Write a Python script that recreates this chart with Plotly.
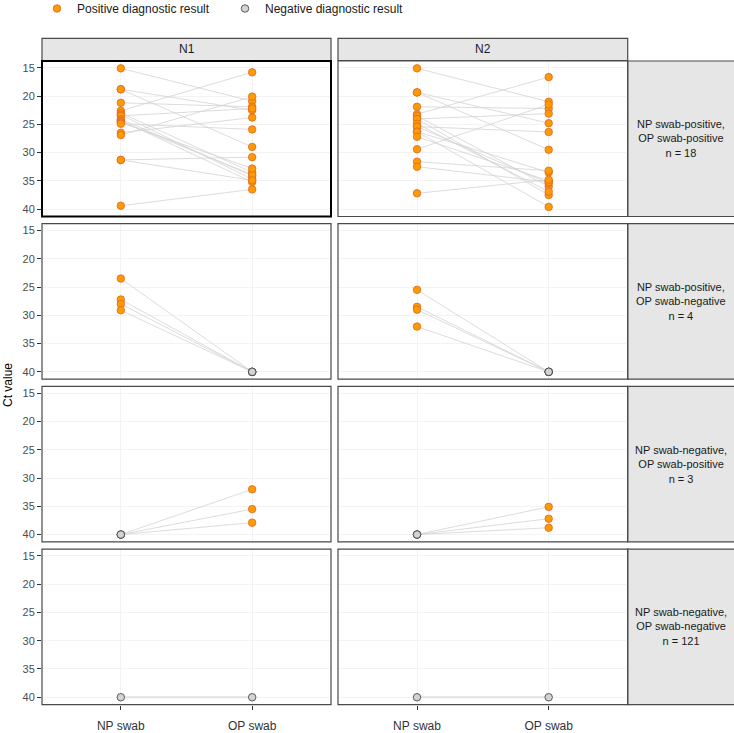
import plotly.graph_objects as go

W, H = 734, 733
FONT = "Liberation Sans, Arial, sans-serif"

cats = ["NP swab", "OP swab"]
genes = ["N1", "N2"]
row_labels = [
    "NP swab-positive,<br>OP swab-positive<br>n = 18",
    "NP swab-positive,<br>OP swab-negative<br>n = 4",
    "NP swab-negative,<br>OP swab-positive<br>n = 3",
    "NP swab-negative,<br>OP swab-negative<br>n = 121",
]
y_ticks = [15, 20, 25, 30, 35, 40]
NEG = 40  # Ct value plotted for negative results

# paired Ct values (NP swab, OP swab), one list per panel
pp_n1_np = [15.1, 18.8, 18.8, 21.2, 22.6, 23.0, 23.3, 23.5, 24.1, 24.3, 24.5, 24.7, 24.9, 26.5, 26.9, 31.3, 31.3, 39.4]
pp_n1_op = [20.9, 22.5, 29.0, 21.9, 15.8, 33.5, 34.7, 22.2, 34.1, 35.2, 33.9, 32.8, 25.9, 23.8, 20.1, 30.8, 34.9, 36.5]
pp_n2_np = [15.1, 19.35, 19.35, 21.9, 23.2, 23.5, 24.05, 24.05, 24.9, 25.4, 25.4, 26.3, 26.3, 27.2, 29.4, 31.6, 32.5, 37.2]
pp_n2_op = [21.0, 24.8, 29.5, 22.2, 16.65, 36.0, 23.1, 37.5, 36.9, 26.35, 35.4, 39.6, 33.5, 35.0, 21.5, 33.2, 35.2, 34.8]
pn_n1_np = [23.5, 27.2, 28.0, 29.1]
pn_n1_op = [NEG, NEG, NEG, NEG]
pn_n2_np = [25.5, 28.5, 29.0, 32.0]
pn_n2_op = [NEG, NEG, NEG, NEG]
np_n1_np = [NEG, NEG, NEG]
np_n1_op = [32.0, 35.5, 37.9]
np_n2_np = [NEG, NEG, NEG]
np_n2_op = [35.1, 37.2, 38.8]
nn_n1_np = [NEG]
nn_n1_op = [NEG]
nn_n2_np = [NEG]
nn_n2_op = [NEG]

panels = [
    [(pp_n1_np, pp_n1_op), (pp_n2_np, pp_n2_op)],
    [(pn_n1_np, pn_n1_op), (pn_n2_np, pn_n2_op)],
    [(np_n1_np, np_n1_op), (np_n2_np, np_n2_op)],
    [(nn_n1_np, nn_n1_op), (nn_n2_np, nn_n2_op)],
]

# layout geometry in pixels
col_x = [(42, 331), (338, 627.7)]
row_top0, row_pitch, row_h = 61, 162.7, 155.5
strip_top = (38.3, 60.5)
px = lambda v: v / W
py = lambda v: 1 - v / H

POS_FILL, POS_LINE = "#FF9A00", "#E0662A"
NEG_FILL, NEG_LINE = "#D3D3D3", "#3A3A3A"

fig = go.Figure()
layout = {}
shapes = []
annotations = []
shown = {"pos": False, "neg": False}

for r in range(4):
    top = row_top0 + r * row_pitch
    bot = top + row_h
    for c in range(2):
        k = r * 2 + c + 1
        sx = "" if k == 1 else str(k)
        xa, ya = "x" + sx, "y" + sx
        npv, opv = panels[r][c]
        # connecting lines
        lx, ly = [], []
        for a, b in zip(npv, opv):
            lx += [cats[0], cats[1], None]
            ly += [a, b, None]
        lw = 2 if r == 3 else 0.8
        lc = "#E2E2E2" if r == 3 else "#D3D3D3"
        fig.add_trace(go.Scatter(x=lx, y=ly, mode="lines", xaxis=xa, yaxis=ya,
                                 line=dict(color=lc, width=lw), showlegend=False,
                                 hoverinfo="skip"))
        # points
        allx = [cats[0]] * len(npv) + [cats[1]] * len(opv)
        ally = list(npv) + list(opv)
        posx = [x for x, y in zip(allx, ally) if y < NEG]
        posy = [y for y in ally if y < NEG]
        negx = [x for x, y in zip(allx, ally) if y >= NEG]
        negy = [y for y in ally if y >= NEG]
        if posy:
            fig.add_trace(go.Scatter(x=posx, y=posy, mode="markers", xaxis=xa, yaxis=ya,
                                     name="Positive diagnostic result", legendgroup="pos",
                                     showlegend=not shown["pos"], legendrank=1,
                                     marker=dict(size=7.5, color=POS_FILL,
                                                 line=dict(color=POS_LINE, width=0.8))))
            shown["pos"] = True
        if negy:
            fig.add_trace(go.Scatter(x=negx, y=negy, mode="markers", xaxis=xa, yaxis=ya,
                                     name="Negative diagnostic result", legendgroup="neg",
                                     showlegend=not shown["neg"], legendrank=2,
                                     marker=dict(size=7.5, color=NEG_FILL,
                                                 line=dict(color=NEG_LINE, width=0.8))))
            shown["neg"] = True

        layout["xaxis" + sx] = dict(
            domain=[px(col_x[c][0]), px(col_x[c][1])], anchor=ya,
            type="category", categoryorder="array", categoryarray=cats,
            range=[-0.6, 1.6], showgrid=True, gridcolor="#F3F3F3", gridwidth=0.7,
            zeroline=False, showline=False,
            ticks="outside" if r == 3 else "", ticklen=4, tickwidth=1, tickcolor="#333333",
            showticklabels=(r == 3), ticklabelstandoff=6,
            tickfont=dict(family=FONT, size=12, color="#333333"),
        )
        layout["yaxis" + sx] = dict(
            domain=[py(bot), py(top)], anchor=xa,
            range=[41.3, 13.8], tickvals=y_ticks, showgrid=True, gridcolor="#F3F3F3",
            gridwidth=0.7, zeroline=False, showline=False,
            ticks="outside" if c == 0 else "", ticklen=4, tickwidth=1, tickcolor="#333333",
            showticklabels=(c == 0),
            tickfont=dict(family=FONT, size=11, color="#4D4D4D"),
        )
        # panel border
        thick = (r == 0 and c == 0)
        shapes.append(dict(type="rect", xref=xa + " domain", yref=ya + " domain",
                           x0=0, x1=1, y0=0, y1=1,
                           line=dict(color="#000000" if thick else "#4A4A4A",
                                     width=2 if thick else 1.2),
                           fillcolor="rgba(0,0,0,0)", layer="above"))
    # right strip
    shapes.append(dict(type="rect", xref="paper", yref="paper",
                       x0=px(627.7), x1=px(736), y0=py(bot), y1=py(top),
                       line=dict(color="#4A4A4A", width=1.2), fillcolor="#E6E6E6",
                       layer="below"))
    annotations.append(dict(xref="paper", yref="paper", x=px(680.5), y=py((top + bot) / 2),
                            xanchor="center", yanchor="middle",
                            text=row_labels[r], showarrow=False, align="center",
                            font=dict(family=FONT, size=11, color="#1A1A1A")))

# top strips
for c in range(2):
    shapes.append(dict(type="rect", xref="paper", yref="paper",
                       x0=px(col_x[c][0]), x1=px(col_x[c][1]),
                       y0=py(strip_top[1]), y1=py(strip_top[0]),
                       line=dict(color="#4A4A4A", width=1.2), fillcolor="#E6E6E6",
                       layer="below"))
    annotations.append(dict(xref="paper", yref="paper",
                            x=px((col_x[c][0] + col_x[c][1]) / 2),
                            y=py(sum(strip_top) / 2), text=genes[c], showarrow=False,
                            xanchor="center", yanchor="middle",
                            font=dict(family=FONT, size=12, color="#1A1A1A")))

# y axis title
annotations.append(dict(xref="paper", yref="paper", x=px(8), y=py(385), text="Ct value",
                        textangle=-90, showarrow=False, xanchor="center", yanchor="middle",
                        font=dict(family=FONT, size=12, color="#000000")))

fig.update_layout(
    **layout,
    width=W, height=H,
    margin=dict(l=0, r=0, t=0, b=0, autoexpand=False),
    paper_bgcolor="white", plot_bgcolor="white",
    shapes=shapes, annotations=annotations,
    showlegend=True,
    legend=dict(orientation="h", x=px(37), y=1 + 6 / H, xanchor="left", yanchor="top",
                font=dict(family=FONT, size=12, color="#1A1A1A"),
                entrywidth=143, entrywidthmode="pixels",
                bgcolor="rgba(0,0,0,0)", borderwidth=0, tracegroupgap=0),
    font=dict(family=FONT),
)

fig.write_html("out.html", config={"displayModeBar": False},
               post_script="document.body.style.margin='0px';document.body.style.overflow='hidden';")
